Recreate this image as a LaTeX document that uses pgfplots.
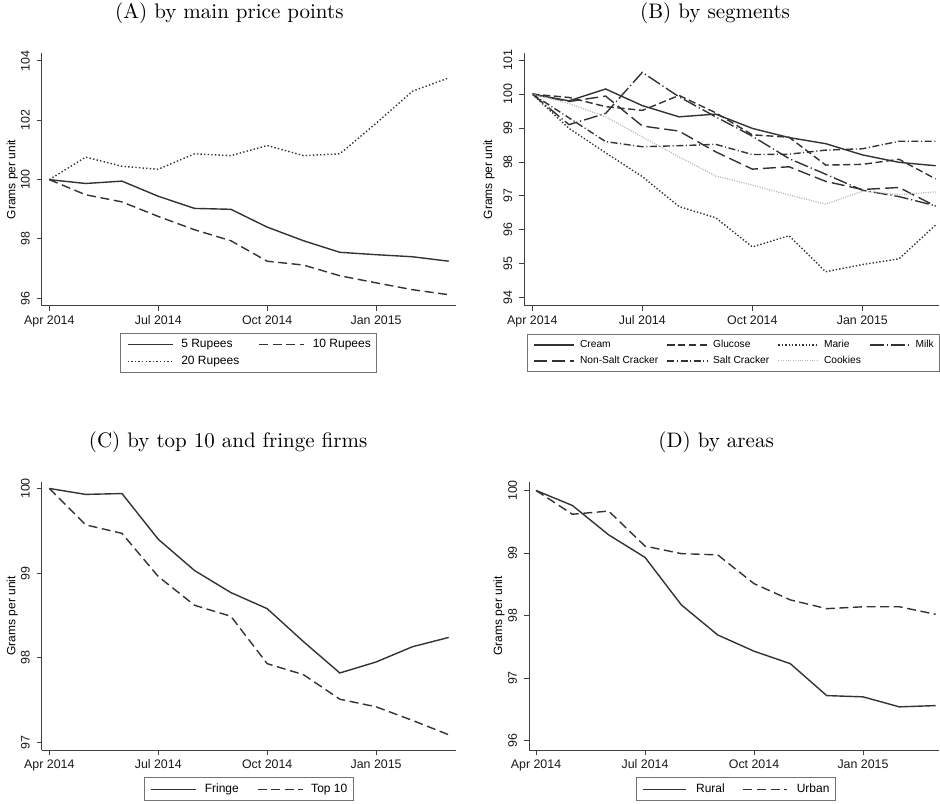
\documentclass[border=0pt]{standalone}
\usepackage{fontspec}
\usepackage{pgfplots}
\pgfplotsset{compat=1.18}
\newfontfamily\arial{Liberation Sans}

% Stata-like monochrome look shared by the four panels
\pgfplotsset{
  stata/.style={
    scale only axis,
    axis x line*=bottom, axis y line*=left,
    axis line style={-, black!75, line width=0.5pt},
    tick style={black!75, line width=0.5pt},
    tick align=outside, major tick length=2.5pt,
    xtick={0,3,6,9},
    xticklabels={Apr 2014, Jul 2014, Oct 2014, Jan 2015},
    /pgf/number format/assume math mode=true,
    ticklabel style={font=\arial\fontsize{6.2}{7}\selectfont, text=black!90},
    xticklabel style={anchor=north, text height=4.6pt, text depth=1.3pt, inner ysep=2pt},
    yticklabel style={rotate=90, anchor=south},
    ylabel={Grams per unit},
    ylabel style={font=\arial\fontsize{6}{7}\selectfont, anchor=center},
    title style={font=\fontsize{10.5}{12}\selectfont, anchor=base, yshift=11.3pt},
    legend cell align=left,
    legend style={
      draw=black!55, line width=0.5pt, fill=white,
      font=\arial\fontsize{6}{7}\selectfont,
      inner xsep=3pt, inner ysep=1.2pt,
      nodes={inner xsep=0pt, inner ysep=1.4pt, text height=4.4pt, text depth=1.3pt},
      anchor=north,
    },
  },
  ln/.style={black!80, line width=0.7pt, solid},
  dsh/.style={black!80, line width=0.7pt, dash pattern=on 4.5pt off 2.3pt},
  dts/.style={black!80, line width=0.7pt, dash pattern=on 0.7pt off 1.1pt},
}

\begin{document}
\begin{tikzpicture}
\useasboundingbox (0,0) rectangle (470pt,401.5pt);

% (A) by main price points
\begin{axis}[stata,
  at={(20.85pt,248.65pt)}, anchor=south west,
  width=207.15pt, height=126.35pt,
  xmin=-0.21, xmax=11.2, ymin=95.75, ymax=104.27,
  ytick={96,98,100,102,104},
  ylabel style={at={(axis description cs:-0.071,0.5)}},
  title={(A) by main price points},
  title style={at={(axis description cs:0.453,1)}},
  legend columns=2,
  legend style={at={(axis description cs:0.5,-0.109)},
    /tikz/every odd column/.append style={column sep=4pt},
    /tikz/every even column/.append style={column sep=9.5pt}},
  legend image code/.code={\draw[#1] (0pt,0pt) -- (22.5pt,0pt);},
]
\addplot[ln] coordinates {(0,100) (1,99.87) (2,99.95) (3,99.44) (4,99.03) (5,99.00) (6,98.40) (7,97.94) (8,97.55) (9,97.47) (10,97.40) (11,97.25)};
\addlegendentry{5 Rupees}
\addplot[dsh] coordinates {(0,100) (1,99.49) (2,99.25) (3,98.76) (4,98.31) (5,97.94) (6,97.25) (7,97.12) (8,96.76) (9,96.52) (10,96.29) (11,96.12)};
\addlegendentry{10 Rupees}
\addplot[dts] coordinates {(0,100) (1,100.76) (2,100.45) (3,100.35) (4,100.87) (5,100.81) (6,101.15) (7,100.81) (8,100.87) (9,101.90) (10,102.98) (11,103.43)};
\addlegendentry{20 Rupees}
\end{axis}

% (B) by segments
\begin{axis}[stata,
  at={(262.15pt,248.65pt)}, anchor=south west,
  width=207.35pt, height=126.2pt,
  xmin=-0.218, xmax=11.09, ymin=93.77, ymax=101.2,
  ytick={94,95,...,101},
  ylabel style={at={(axis description cs:-0.085,0.5)}},
  title={(B) by segments},
  title style={at={(axis description cs:0.46,1)}},
  legend columns=4,
  legend style={at={(axis description cs:0.505,-0.112)},
    font=\arial\fontsize{5.1}{6}\selectfont,
    nodes={text height=3.7pt, text depth=1.1pt, inner ysep=1.6pt},
    /tikz/every odd column/.append style={column sep=2.5pt},
    /tikz/every even column/.append style={column sep=4.2pt}},
  legend image code/.code={\draw[#1] (0pt,0pt) -- (20pt,0pt);},
]
\addplot[ln] coordinates {(0,100) (1,99.80) (2,100.15) (3,99.66) (4,99.33) (5,99.41) (6,98.99) (7,98.72) (8,98.54) (9,98.21) (10,97.99) (11,97.89)};
\addlegendentry{Cream}
\addplot[black!80, line width=0.7pt, dash pattern=on 3.6pt off 1.8pt] coordinates {(0,100) (1,99.90) (2,99.63) (3,99.52) (4,99.96) (5,99.45) (6,98.80) (7,98.73) (8,97.91) (9,97.93) (10,98.08) (11,97.50)};
\addlegendentry{Glucose}
\addplot[black!80, line width=0.7pt, dash pattern=on 0.7pt off 1.0pt] coordinates {(0,100) (1,98.99) (2,98.27) (3,97.57) (4,96.69) (5,96.36) (6,95.50) (7,95.83) (8,94.77) (9,94.98) (10,95.15) (11,96.15)};
\addlegendentry{Marie}
\addplot[black!80, line width=0.7pt, dash pattern=on 7pt off 1.5pt on 0.6pt off 1.5pt] coordinates {(0,100) (1,99.10) (2,99.43) (3,100.64) (4,99.92) (5,99.33) (6,98.76) (7,98.10) (8,97.64) (9,97.17) (10,96.98) (11,96.71)};
\addlegendentry{Milk}
\addplot[black!80, line width=0.7pt, dash pattern=on 6.5pt off 2.5pt] coordinates {(0,100) (1,99.78) (2,99.94) (3,99.06) (4,98.91) (5,98.30) (6,97.79) (7,97.86) (8,97.43) (9,97.19) (10,97.25) (11,96.70)};
\addlegendentry{Non-Salt Cracker}
\addplot[black!80, line width=0.7pt, dash pattern=on 3.5pt off 1.3pt on 0.5pt off 1.3pt] coordinates {(0,100) (1,99.30) (2,98.60) (3,98.45) (4,98.48) (5,98.52) (6,98.22) (7,98.23) (8,98.35) (9,98.39) (10,98.61) (11,98.61)};
\addlegendentry{Salt Cracker}
\addplot[black!30, line width=0.6pt, dash pattern=on 0.5pt off 0.7pt] coordinates {(0,100) (1,99.72) (2,99.33) (3,98.74) (4,98.15) (5,97.59) (6,97.32) (7,97.03) (8,96.76) (9,97.14) (10,97.04) (11,97.12)};
\addlegendentry{Cookies}
\end{axis}

% (C) by top 10 and fringe firms
\begin{axis}[stata,
  at={(20.85pt,26.5pt)}, anchor=south west,
  width=207.15pt, height=134.15pt,
  xmin=-0.21, xmax=11.2, ymin=96.91, ymax=100.08,
  ytick={97,98,99,100},
  ylabel style={at={(axis description cs:-0.071,0.5)}},
  title={(C) by top 10 and fringe firms},
  title style={at={(axis description cs:0.45,1)}},
  legend columns=2,
  legend style={at={(axis description cs:0.5,-0.102)},
    inner ysep=1.5pt,
    /tikz/every odd column/.append style={column sep=4pt},
    /tikz/every even column/.append style={column sep=9pt}},
  legend image code/.code={\draw[#1] (0pt,0pt) -- (22.5pt,0pt);},
]
\addplot[ln] coordinates {(0,100) (1,99.93) (2,99.94) (3,99.40) (4,99.03) (5,98.77) (6,98.58) (7,98.19) (8,97.82) (9,97.95) (10,98.13) (11,98.24)};
\addlegendentry{Fringe}
\addplot[dsh] coordinates {(0,100) (1,99.57) (2,99.47) (3,98.96) (4,98.62) (5,98.49) (6,97.93) (7,97.80) (8,97.51) (9,97.42) (10,97.26) (11,97.09)};
\addlegendentry{Top 10}
\end{axis}

% (D) by areas
\begin{axis}[stata,
  at={(264.5pt,26.5pt)}, anchor=south west,
  width=205.15pt, height=134.15pt,
  xmin=-0.193, xmax=11.1, ymin=95.85, ymax=100.14,
  ytick={96,97,98,99,100},
  ylabel style={at={(axis description cs:-0.073,0.5)}},
  title={(D) by areas},
  title style={at={(axis description cs:0.456,1)}},
  legend columns=2,
  legend style={at={(axis description cs:0.504,-0.102)},
    inner ysep=1.5pt,
    /tikz/every odd column/.append style={column sep=4.6pt},
    /tikz/every even column/.append style={column sep=9pt}},
  legend image code/.code={\draw[#1] (0pt,0pt) -- (21.7pt,0pt);},
]
\addplot[ln] coordinates {(0,100) (1,99.76) (2,99.29) (3,98.93) (4,98.17) (5,97.69) (6,97.43) (7,97.23) (8,96.72) (9,96.70) (10,96.54) (11,96.56)};
\addlegendentry{Rural}
\addplot[dsh] coordinates {(0,100) (1,99.62) (2,99.67) (3,99.11) (4,98.99) (5,98.97) (6,98.51) (7,98.25) (8,98.11) (9,98.14) (10,98.14) (11,98.02)};
\addlegendentry{Urban}
\end{axis}
\end{tikzpicture}
\end{document}
